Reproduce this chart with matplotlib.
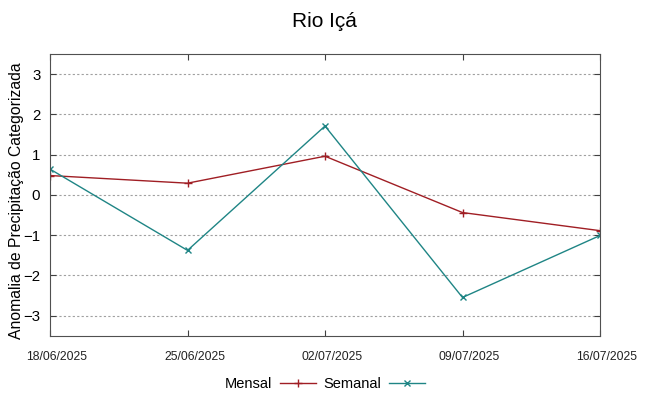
import numpy as np
import matplotlib.pyplot as plt
import matplotlib.transforms as mtransforms

plt.rcParams['font.family'] = ['Liberation Sans', 'DejaVu Sans']

datas = ['18/06/2025', '25/06/2025', '02/07/2025', '09/07/2025', '16/07/2025']
mensal = [0.48, 0.29, 0.96, -0.44, -0.89]
semanal = [0.64, -1.38, 1.71, -2.55, -1.01]

x = np.arange(len(datas))

fig = plt.figure(figsize=(6.48, 3.96), dpi=100)
ax = fig.add_axes([50/648, 1-335.7/396, 550/648, 281.7/396])

ax.plot(x, mensal, color='#a01e24', lw=1, marker='+', ms=6, mew=1, label='Mensal')
ax.plot(x, semanal, color='#1f8585', lw=1, marker='x', ms=5, mew=1, label='Semanal')

ax.set_xlim(0, len(datas) - 1)
ax.set_ylim(-3.5, 3.5)
ax.set_xticks(x)
ax.set_xticklabels(datas, fontsize=8.8, color='#222222')
ax.set_yticks(np.arange(-3, 4))
ax.tick_params(axis='y', labelsize=10.8)
ax.tick_params(direction='in', top=True, right=True, length=4, color='#404040')
ax.tick_params(axis='x', pad=11)
ax.tick_params(axis='y', pad=7)
ax.grid(axis='y', ls=(0, (2, 2)), color='#a0a0a0', lw=0.8)
for s in ax.spines.values():
    s.set_color('#505050')

# gnuplot-like shift of the date labels to the right
shift = mtransforms.ScaledTranslation(7/100, 0, fig.dpi_scale_trans)
for lbl in ax.get_xticklabels():
    lbl.set_transform(lbl.get_transform() + shift)

ax.set_ylabel('Anomalia de Precipitação Categorizada', fontsize=11.3)
ax.yaxis.set_label_coords(-0.047, 0.478)
fig.suptitle('Rio Içá', fontsize=15, y=0.97)

ax.legend(loc='upper center', bbox_to_anchor=(0.5, -0.1), ncol=2, frameon=False,
          markerfirst=False, fontsize=10.5, handlelength=2.5, columnspacing=0.5,
          handletextpad=0.5)

fig.savefig('out.png', dpi=100)
